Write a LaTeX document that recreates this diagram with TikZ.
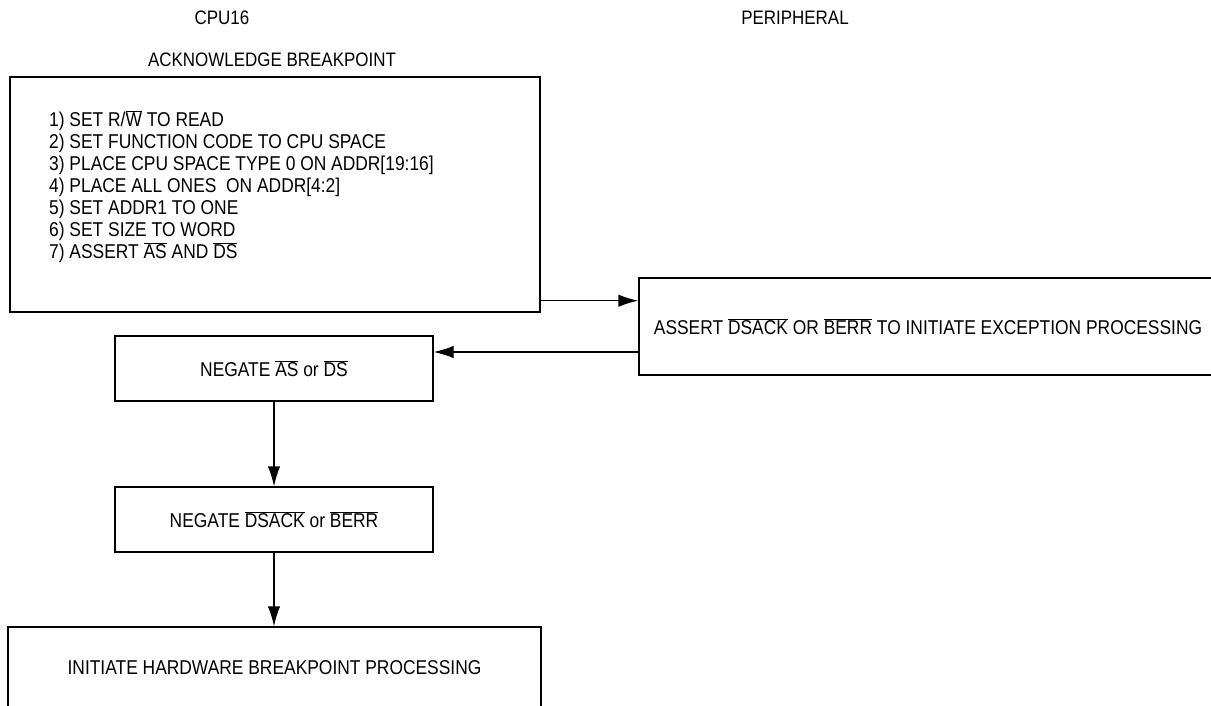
\documentclass[tikz,border=0pt]{standalone}
\usepackage{fontspec}
\setmainfont{Liberation Sans}[FakeStretch=0.87]
\usetikzlibrary{arrows.meta}
\newcommand{\ovl}[1]{$\overline{\mbox{#1}}$}
\begin{document}
\begin{tikzpicture}[x=1pt,y=-1pt,
  box/.style={draw,line width=1.4pt,rectangle,inner sep=0pt},
  lbl/.style={inner sep=0pt,font=\fontsize{19.5}{22}\selectfont},
  txt/.style={inner sep=0pt,font=\fontsize{20}{22}\selectfont},
  arr/.style={line width=1.4pt,-{Latex[length=20pt,width=12.5pt]}}]
\useasboundingbox (0,0) rectangle (1211,706);
\clip (0,0) rectangle (1211,706);
\node[lbl] (cpu) at (222,18) {CPU16};
\node[lbl] (peri) at (795,18) {PERIPHERAL};
\node[lbl] (ack) at (272,60) {ACKNOWLEDGE BREAKPOINT};
\node[box,minimum width=530pt,minimum height=235pt] (top) at (275,194.5) {};
\node[txt,anchor=west,align=left] (steps) at (49,187) {1) SET R/\ovl{W} TO READ\\
2) SET FUNCTION CODE TO CPU SPACE\\
3) PLACE CPU SPACE TYPE 0 ON ADDR[19:16]\\
4) PLACE ALL ONES \ ON ADDR[4:2]\\
5) SET ADDR1 TO ONE\\
6) SET SIZE TO WORD\\
7) ASSERT \ovl{AS} AND \ovl{DS}};
\node[box,txt,minimum width=578pt,minimum height=97pt] (per) at (928,326.5) {ASSERT \ovl{DSACK} OR \ovl{BERR} TO INITIATE EXCEPTION PROCESSING};
\node[box,txt,minimum width=318pt,minimum height=65pt] (neg1) at (274,368.5) {NEGATE \ovl{AS} or \ovl{DS}};
\node[box,txt,minimum width=318pt,minimum height=65pt] (neg2) at (274,519.5) {NEGATE \ovl{DSACK} or \ovl{BERR}};
\node[box,txt,minimum width=533pt,minimum height=82pt] (hw) at (274.5,668) {INITIATE HARDWARE BREAKPOINT PROCESSING};
\draw[arr] ([yshift=12pt]top.south east) -- ([yshift=12pt]top.south east -| per.west);
\draw[arr] ([yshift=16.5pt]neg1.east -| per.west) -- ([yshift=16.5pt]neg1.east);
\draw[arr] (neg1.south) -- (neg2.north);
\draw[arr] (neg2.south) -- (neg2.south |- hw.north);
\end{tikzpicture}
\end{document}
